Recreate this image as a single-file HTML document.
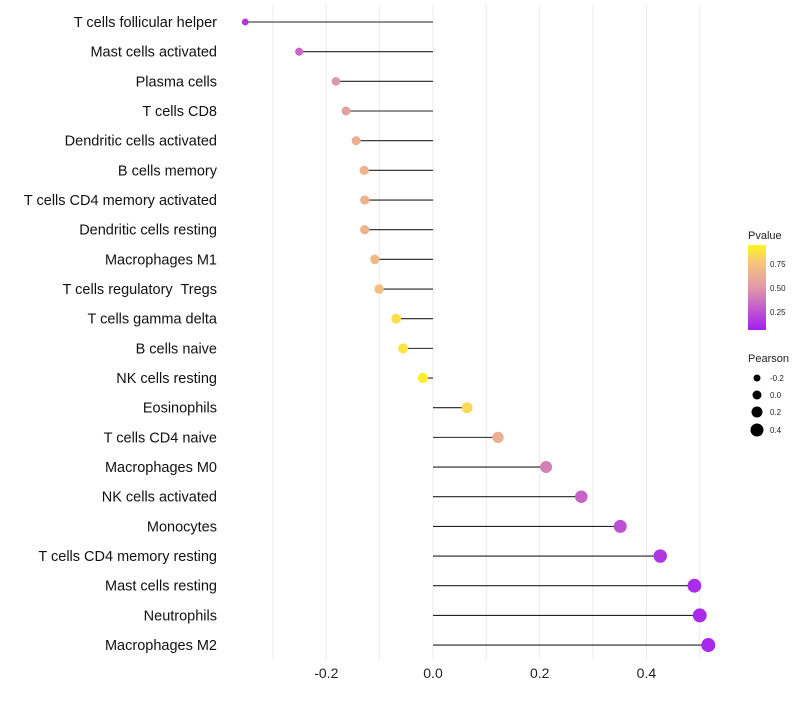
<!DOCTYPE html>
<html><head><meta charset="utf-8"><style>
body{margin:0;background:#fff;font-family:"Liberation Sans",Arial,sans-serif;}
svg text{font-family:"Liberation Sans",Arial,sans-serif;white-space:pre;}
</style></head><body>
<svg id="chart" width="800" height="700" xmlns="http://www.w3.org/2000/svg">
<defs><linearGradient id="pg" x1="0" y1="1" x2="0" y2="0">
<stop offset="0" stop-color="#a41ef0"/><stop offset="0.5" stop-color="#e098a8"/><stop offset="0.8" stop-color="#f5c77a"/><stop offset="1" stop-color="#fff41e"/></linearGradient></defs>
<g id="grid"></g><g id="marks"></g><g id="labels"></g><g id="ticks"></g>
<g>
<text x="748" y="239" font-size="11" fill="#222">Pvalue</text>
<rect x="748" y="245" width="18" height="85" fill="url(#pg)"/>
<text x="770" y="267" font-size="8" fill="#222">0.75</text>
<text x="770" y="291" font-size="8" fill="#222">0.50</text>
<text x="770" y="315" font-size="8" fill="#222">0.25</text>
</g>
<g>
<text x="748" y="362" font-size="11" fill="#222">Pearson</text>
<circle cx="757" cy="378" r="3.5" fill="#000"/><text x="770" y="381" font-size="8" fill="#222">-0.2</text>
<circle cx="757" cy="395" r="4.5" fill="#000"/><text x="770" y="398" font-size="8" fill="#222">0.0</text>
<circle cx="757" cy="412" r="5.5" fill="#000"/><text x="770" y="415" font-size="8" fill="#222">0.2</text>
<circle cx="757" cy="430" r="6.5" fill="#000"/><text x="770" y="433" font-size="8" fill="#222">0.4</text>
</g>
</svg>
<script>
const categories=["T cells follicular helper","Mast cells activated","Plasma cells","T cells CD8","Dendritic cells activated","B cells memory","T cells CD4 memory activated","Dendritic cells resting","Macrophages M1","T cells regulatory  Tregs","T cells gamma delta","B cells naive","NK cells resting","Eosinophils","T cells CD4 naive","Macrophages M0","NK cells activated","Monocytes","T cells CD4 memory resting","Mast cells resting","Neutrophils","Macrophages M2"];
const pearson=[-0.352,-0.251,-0.182,-0.163,-0.144,-0.129,-0.128,-0.128,-0.109,-0.101,-0.069,-0.056,-0.019,0.064,0.122,0.212,0.278,0.351,0.426,0.49,0.50,0.516];
const pvalue=[0.1,0.3,0.5,0.55,0.65,0.68,0.68,0.68,0.72,0.75,0.9,0.93,0.97,0.88,0.65,0.4,0.28,0.2,0.1,0.06,0.05,0.04];
const xTicks=[-0.2,0,0.2,0.4];
const xTickLabels=["-0.2","0.0","0.2","0.4"];
const NS="http://www.w3.org/2000/svg";
const x=v=>433+v*533.5;
const y=i=>22+i*29.67;
const r=v=>Math.sqrt(Math.max(2.25,27+43*v));
function lerp(a,b,t){return a.map((c,i)=>Math.round(c+(b[i]-c)*t));}
function col(p){const s=[[0,[164,30,240]],[0.5,[224,152,168]],[0.8,[245,199,122]],[1,[255,244,30]]];
for(let k=1;k<s.length;k++){if(p<=s[k][0]){const t=(p-s[k-1][0])/(s[k][0]-s[k-1][0]);return "rgb("+lerp(s[k-1][1],s[k][1],t).join(",")+")";}}return "rgb(255,244,30)";}
function mk(t,a,p){const e=document.createElementNS(NS,t);for(const k in a)e.setAttribute(k,a[k]);p.appendChild(e);return e;}
const grid=document.getElementById('grid'),marks=document.getElementById('marks'),labels=document.getElementById('labels'),ticks=document.getElementById('ticks');
for(let g=-0.3;g<=0.51;g+=0.1){const gl=mk('line',{x1:x(g),x2:x(g),y1:5,y2:660,stroke:'#ebebeb','stroke-width':1},grid);

}
categories.forEach((c,i)=>{
const ln=mk('line',{x1:x(0),x2:x(pearson[i]),y1:y(i),y2:y(i),stroke:'#222','stroke-width':1.1},marks);


const ci=mk('circle',{cx:x(pearson[i]),cy:y(i),r:r(pearson[i]),fill:col(pvalue[i])},marks);


const t=mk('text',{x:217,y:y(i)+5,'text-anchor':'end','font-size':14.5,fill:'#111'},labels);
t.textContent=c;


});
xTicks.forEach((v,i)=>{const t=mk('text',{x:x(v),y:678,'text-anchor':'middle','font-size':14,fill:'#222'},ticks);
t.textContent=xTickLabels[i];

});
</script>
</body></html>
